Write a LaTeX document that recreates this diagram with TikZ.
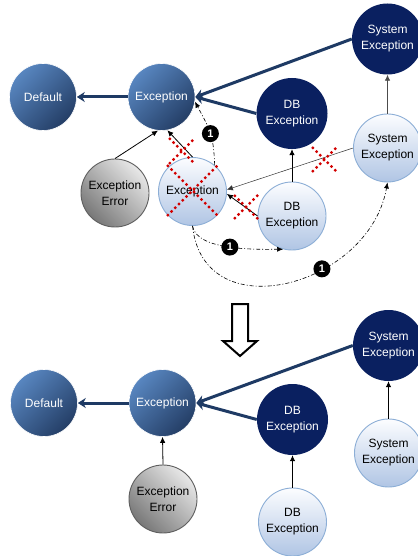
\documentclass[tikz,border=0pt]{standalone}
\usepackage{fontspec}
\setmainfont{Liberation Sans}
\usetikzlibrary{arrows.meta,calc}

\definecolor{midblueA}{RGB}{88,134,192}
\definecolor{midblueB}{RGB}{36,62,102}
\definecolor{navy}{RGB}{10,32,96}
\definecolor{paleTop}{RGB}{252,253,255}
\definecolor{paleBot}{RGB}{176,197,228}
\definecolor{paleEdge}{RGB}{140,174,214}
\definecolor{greyA}{RGB}{232,232,232}
\definecolor{greyB}{RGB}{120,120,120}
\definecolor{greyEdge}{RGB}{95,95,95}
\definecolor{linkblue}{RGB}{30,58,100}
\definecolor{crossred}{RGB}{210,0,0}

\tikzset{
  pics/redx/.style={code={
    \draw[strike] (-#1,-#1) -- (#1,#1);
    \draw[strike] (-#1,#1) -- (#1,-#1);
  }},
}

\begin{document}
\begin{tikzpicture}[x=1pt,y=-1pt,
  every node/.style={font=\fontsize{12}{16}\selectfont, align=center, inner sep=0pt},
  midnode/.style={circle, minimum size=67pt, top color=midblueA, bottom color=midblueB,
                  shading angle=45, draw=white, line width=0.6pt, text=white},
  navynode/.style={circle, minimum size=71pt, fill=navy, text=white},
  palenode/.style={circle, minimum size=68pt, top color=paleTop, bottom color=paleBot,
                   draw=paleEdge, line width=0.9pt, text=black},
  greynode/.style={circle, minimum size=68pt, top color=greyA, bottom color=greyB,
                   shading angle=-45, draw=greyEdge, line width=0.9pt, text=black},
  heavy/.style={draw=linkblue, line width=3pt, -{Stealth[length=8pt,width=10pt]}},
  plainarrow/.style={draw=black, line width=0.8pt, -{Latex[length=6pt,width=5.5pt]}},
  dashdot/.style={draw=black, line width=0.6pt,
                  dash pattern=on 4pt off 2pt on 1pt off 2pt, -{Latex[length=6pt,width=5pt]}},
  badge/.style={circle, fill=black, text=white, minimum size=17pt,
                font=\fontsize{11}{11}\selectfont\bfseries},
  strike/.style={draw=crossred, line width=2.3pt, dash pattern=on 2.3pt off 3pt},
]
\fill[white] (0,0) rectangle (417,556);
\useasboundingbox (0,0) rectangle (417,556);

% ---------- hierarchy before the change ----------
\node[midnode]  (def1)  at (43,97)      {Default};
\node[midnode]  (exc1)  at (161.5,97)   {Exception};
\node[navynode] (sys1)  at (387.5,39)   {System\\Exception};
\node[navynode] (db1)   at (292,113.5)  {DB\\Exception};
\node[palenode] (sysl1) at (387.5,148)  {System\\Exception};
\node[greynode] (err1)  at (115,193)    {Exception\\Error};
\node[palenode] (excl1) at (192.5,191.5){Exception};
\node[palenode] (dbl1)  at (292,216)    {DB\\Exception};

\draw[heavy] (exc1.west) -- (def1.east);
\draw[heavy] (sys1.west) -- (exc1.east);
\draw[heavy] (db1.west) -- (exc1.east);

\draw[plainarrow] (err1.north) -- (exc1.264);
\draw[plainarrow] (excl1.north) -- (exc1.280);
\draw[plainarrow] (dbl1.north) -- (db1.south);
\draw[plainarrow, draw=black!70] (sysl1.north) -- (sys1.south);
\draw[plainarrow, line width=0.5pt, draw=black!80] (sysl1.west) -- (excl1.3);
\draw[plainarrow] (dbl1.west) -- (excl1.-4);

\draw[dashdot] (excl1.50) to[out=92,in=-62,looseness=1.2] node[badge,pos=0.47] {1} (exc1.-8);
\draw[dashdot] (excl1.south) to[out=-80,in=180,looseness=0.7] node[badge,pos=0.5] {1} (dbl1.255);
\draw[dashdot] (excl1.south) to[out=-84,in=-100,looseness=1.35] node[badge,pos=0.63] {1} (sysl1.south);

% removed relations
\pic at (182,151) {redx=13};
\pic at (192.5,190.5) {redx=25.5};
\pic at (246,207) {redx=12};
\pic at (324.5,159.5) {redx=12.5};

% ---------- transition ----------
\draw[line width=2pt, fill=white, line join=miter]
  (232,304) -- (248,304) -- (248,341) -- (257,341) -- (240,356) -- (223,341) -- (232,341) -- cycle;

% ---------- hierarchy after the change ----------
\node[midnode]  (def2)  at (44,403)     {Default};
\node[midnode]  (exc2)  at (162.5,403)  {Exception};
\node[navynode] (sys2)  at (388.5,345.5){System\\Exception};
\node[navynode] (db2)   at (292.5,419.5){DB\\Exception};
\node[palenode] (sysl2) at (388.5,453)  {System\\Exception};
\node[greynode] (err2)  at (163,499)    {Exception\\Error};
\node[palenode] (dbl2)  at (292.5,522)  {DB\\Exception};

\draw[heavy] (exc2.west) -- (def2.east);
\draw[heavy] (sys2.west) -- (exc2.east);
\draw[heavy] (db2.west) -- (exc2.east);

\draw[plainarrow] (err2.north) -- (exc2.south);
\draw[plainarrow] (dbl2.north) -- (db2.south);
\draw[plainarrow] (sysl2.north) -- (sys2.south);
\end{tikzpicture}
\end{document}
